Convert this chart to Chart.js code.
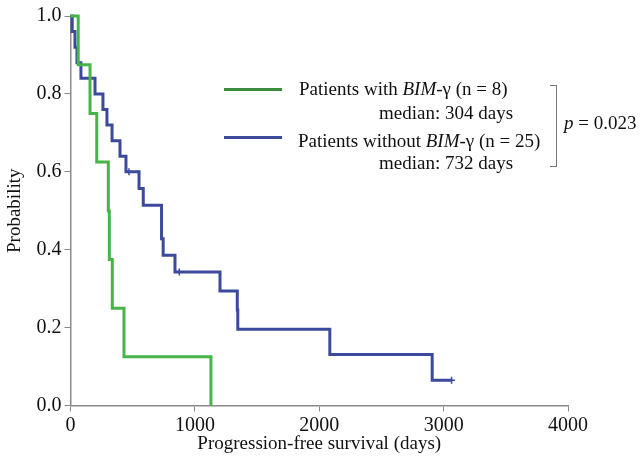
<!DOCTYPE html>
<html>
<head>
<meta charset="utf-8">
<script src="https://cdn.jsdelivr.net/npm/chart.js@4"></script>
<style>
    body { margin: 0; background: #fff; }
    #wrap { position: relative; width: 640px; height: 461px; }
    #chart { position: absolute; left: 0; top: 0; }
    .lbl { position: absolute; font-family: "Liberation Serif", serif; font-size: 19px; color: #111;
           line-height: 22px; height: 22px; white-space: nowrap; }
    .swatch { position: absolute; height: 3px; width: 58px; }
    .br { position: absolute; background: #777; }
</style>
</head>
<body>
<div id="wrap">
    <canvas id="chart" width="640" height="461"></canvas>
    <div class="swatch" style="left:224px; top:88px; background:#3b8c3e;"></div>
    <div class="lbl" style="left:299px; top:78px;">Patients with <i>BIM</i>-γ (n = 8)</div>
    <div class="lbl" style="left:379px; top:102px;">median: 304 days</div>
    <div class="swatch" style="left:224px; top:136px; background:#3b4a9b;"></div>
    <div class="lbl" style="left:298px; top:130px;">Patients without <i>BIM</i>-γ (n = 25)</div>
    <div class="lbl" style="left:379px; top:152px;">median: 732 days</div>
    <div class="br" style="left:556px; top:85px; width:1px; height:82px;"></div>
    <div class="br" style="left:550px; top:85px; width:7px; height:1px;"></div>
    <div class="br" style="left:550px; top:166px; width:7px; height:1px;"></div>
    <div class="lbl" style="left:564px; top:112px;"><i>p</i> = 0.023</div>
</div>
<script>
/* Kaplan-Meier curves */

// patients with BIM-gamma (n = 8)
const withDays = [0, 62, 157, 211, 304, 312, 336, 430, 1129];
const withSurv = [1.0, 0.875, 0.75, 0.625, 0.5, 0.375, 0.25, 0.125, 0.0];

// patients without BIM-gamma (n = 25)
const withoutDays = [0, 14, 36, 52, 84, 197, 261, 293, 334, 398, 446, 551, 585, 732, 745, 840, 1202, 1341, 1345, 2085, 2908, 3064];
const withoutSurv = [1.0, 0.96, 0.92, 0.88, 0.84, 0.80, 0.76, 0.72, 0.68, 0.64, 0.60, 0.557, 0.514, 0.428, 0.386, 0.343, 0.294, 0.245, 0.196, 0.131, 0.065, 0.065];

// censored observations
const censorDays = [470, 875, 3064];
const censorSurv = [0.60, 0.343, 0.065];

const xTicks = [0, 1000, 2000, 3000, 4000];
const yTicks = [0, 0.2, 0.4, 0.6, 0.8, 1.0];

function toPoints(xs, ys) {
    return xs.map((x, i) => ({ x: x, y: ys[i] }));
}

const axisColor = '#8a8a8a';
const tickFont = { family: 'Liberation Serif', size: 20 };
const titleFont = { family: 'Liberation Serif', size: 19 };

new Chart(document.getElementById('chart').getContext('2d'), {
    type: 'line',
    data: {
        datasets: [{
            label: 'with',
            data: toPoints(withDays, withSurv),
            borderColor: '#45b449',
            borderWidth: 3,
            stepped: true,
            pointRadius: 0,
            fill: false,
            clip: 6
        }, {
            label: 'without',
            data: toPoints(withoutDays, withoutSurv),
            borderColor: '#3b4a9c',
            borderWidth: 3,
            stepped: true,
            pointRadius: 0,
            fill: false,
            clip: 6
        }, {
            label: 'censored',
            data: toPoints(censorDays, censorSurv),
            showLine: false,
            pointStyle: 'cross',
            pointRadius: 3.5,
            pointBorderWidth: 1.5,
            pointBorderColor: '#3b4a9c',
            clip: 6
        }]
    },
    options: {
        responsive: false,
        animation: false,
        layout: { padding: { left: 0, right: 72, top: 16, bottom: 0 } },
        plugins: { legend: { display: false }, tooltip: { enabled: false } },
        scales: {
            x: {
                type: 'linear',
                min: 0,
                max: 4000,
                afterBuildTicks: scale => { scale.ticks = xTicks.map(v => ({ value: v })); },
                afterFit: scale => { scale.height = 55.5; },
                grid: { drawOnChartArea: false, tickLength: 6, color: axisColor },
                border: { color: axisColor, width: 1.5 },
                ticks: { font: tickFont, color: '#111', padding: 2, maxRotation: 0, callback: v => String(v) },
                title: { display: true, text: 'Progression-free survival (days)', font: titleFont,
                         color: '#111', padding: { top: 0, bottom: 6 } }
            },
            y: {
                min: 0,
                max: 1,
                afterBuildTicks: scale => { scale.ticks = yTicks.map(v => ({ value: v })); },
                afterFit: scale => { scale.width = 70.5; },
                grid: { drawOnChartArea: false, tickLength: 6, color: axisColor },
                border: { color: axisColor, width: 1.5 },
                ticks: { font: tickFont, color: '#111', padding: 3, callback: v => v.toFixed(1) },
                title: { display: true, text: 'Probability', font: titleFont,
                         color: '#111', padding: { top: 4, bottom: 0 } }
            }
        }
    }
});
</script>
</body>
</html>
